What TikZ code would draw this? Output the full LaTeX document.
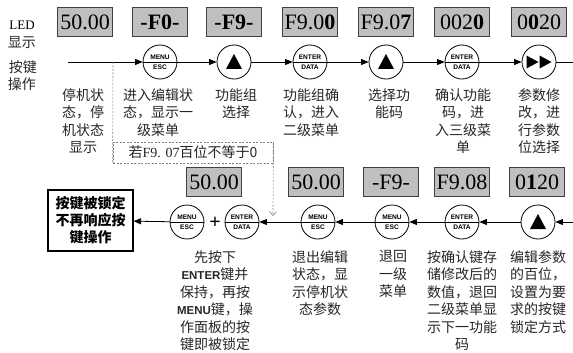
\documentclass[tikz,border=0pt]{standalone}
\usepackage{fontspec}
\setmainfont{Liberation Serif}
\newfontfamily\cjk{Noto Sans CJK SC}
\newfontfamily\keyfont{Liberation Sans}
\usetikzlibrary{arrows.meta,calc}

% key faces drawn on a named circle node
\newcommand\keyface[3]{%
  \draw[line width=0.6pt] (#1.west) -- (#1.east);
  \node[keytxt] (#1-t) at ([yshift=4.6pt]#1.center) {#2};
  \node[keytxt] (#1-b) at ([yshift=-4.8pt]#1.center) {#3};}
\newcommand\uptri[1]{%
  \fill ([shift={(-8pt,-7pt)}]#1.center) -- ++(16,0) -- ++(-8,-15) -- cycle;}
\newcommand\fwdtri[1]{%
  \fill ([shift={(-12.5pt,6.5pt)}]#1.center) -- ++(12,6.5) -- ++(-12,6.5) -- cycle;
  \fill ([shift={(0.5pt,6.5pt)}]#1.center) -- ++(12,6.5) -- ++(-12,6.5) -- cycle;}

\begin{document}
\begin{tikzpicture}[x=1pt,y=-1pt,line width=0.8pt,
  >={Triangle[length=7.5pt,width=6pt]},
  led/.style={draw=black!75,fill=gray!50,line width=0.8pt,minimum width=55pt,
    minimum height=29pt,inner sep=0pt,font=\fontsize{22}{22}\selectfont},
  keyc/.style={draw,circle,minimum size=34pt,inner sep=0pt,line width=0.8pt},
  keytxt/.style={inner sep=0pt,font=\keyfont\bfseries\fontsize{6.6}{7}\selectfont},
  desc/.style={anchor=north,align=center,inner sep=0pt,text=black!85,
    font=\cjk\fontsize{14}{17.5}\selectfont},
  dashline/.style={dash pattern=on 2pt off 1.5pt,black!50,line width=0.6pt}]
  \useasboundingbox (0,0) rectangle (573,353);

  % left captions
  \node[font=\fontsize{13}{13}\selectfont] (l1) at (22,25) {LED};
  \node[desc,anchor=center] (l2) at (22,43) {显示};
  \node[desc,anchor=center] (l3) at (23,67) {按键};
  \node[desc,anchor=center] (l4) at (22,84) {操作};

  % top row: displays
  \node[led] (d1) at (85,22) {50.00};
  \node[led] (d2) at (160,22) {\textbf{-F0-}};
  \node[led] (d3) at (234,22) {\textbf{-F9-}};
  \node[led] (d4) at (310,22) {F9.0\textbf{0}};
  \node[led] (d5) at (386,22) {F9.0\textbf{7}};
  \node[led] (d6) at (462,22) {002\textbf{0}};
  \node[led] (d7) at (539,22) {0\textbf{0}20};

  % top row: keys
  \node[keyc] (k1) at (160,62) {};
  \node[keyc] (k2) at (234,62) {};
  \node[keyc] (k3) at (310,62) {};
  \node[keyc] (k4) at (386,62) {};
  \node[keyc] (k5) at (462,62) {};
  \node[keyc] (k6) at (539,62) {};
  \keyface{k1}{MENU}{ESC}
  \uptri{k2}
  \keyface{k3}{ENTER}{DATA}
  \uptri{k4}
  \keyface{k5}{ENTER}{DATA}
  \fwdtri{k6}

  \coordinate (s0) at (68,62);
  \coordinate (s1) at (573,62);
  \draw[->] (s0) -- (k1);
  \draw[->] (k1) -- (k2);
  \draw[->] (k2) -- (k3);
  \draw[->] (k3) -- (k4);
  \draw[->] (k4) -- (k5);
  \draw[->] (k5) -- (k6);
  \draw (k6) -- (s1);

  % top row: notes
  \node[desc] (t1) at (83,88) {停机状\\态，停\\机状态\\显示};
  \node[desc] (t2) at (158,88) {进入编辑状\\态，显示一\\级菜单};
  \node[desc] (t3) at (236,88) {功能组\\选择};
  \node[desc] (t4) at (311,88) {功能组确\\认，进入\\二级菜单};
  \node[desc] (t5) at (389,88) {选择功\\能码};
  \node[desc] (t6) at (463,88) {确认功能\\码，进\\入三级菜\\单};
  \node[desc] (t7) at (539,88) {参数修\\改，进\\行参数\\位选择};

  % condition branch
  \coordinate (tap) at (113,62);
  \coordinate (vtip) at (273,216);
  \node[draw,dashline,text=black!85,minimum width=160pt,minimum height=21pt,inner sep=0pt,
    font=\cjk\fontsize{14}{14}\selectfont] (cond) at (193,152.5)
    {若{\rmfamily F9. 07}百位不等于0};
  \draw[dashline] (tap) -- (cond.south west);
  \draw[dashline,-{Straight Barb[length=4pt,width=7pt]}] (cond.north east) -- (vtip);

  % bottom row: displays
  \node[led] (e1) at (214,182) {50.00};
  \node[led] (e2) at (316,182) {50.00};
  \node[led] (e3) at (391,182) {-F9-};
  \node[led] (e4) at (462,182) {F9.08};
  \node[led] (e5) at (537,182) {0\textbf{1}20};

  % bottom row: keys
  \node[keyc] (c1) at (538,222) {};
  \node[keyc] (c2) at (462,222) {};
  \node[keyc] (c3) at (392,222) {};
  \node[keyc] (c4) at (318,222) {};
  \node[keyc] (c5) at (242,222) {};
  \node[keyc] (c6) at (187,222) {};
  \uptri{c1}
  \keyface{c2}{ENTER}{DATA}
  \keyface{c3}{MENU}{ESC}
  \keyface{c4}{MENU}{ESC}
  \keyface{c5}{ENTER}{DATA}
  \keyface{c6}{MENU}{ESC}
  \node[font=\bfseries\fontsize{20}{20}\selectfont,inner sep=0pt] (plus) at (215,223) {+};

  \node[draw,line width=1.1pt,minimum width=85pt,minimum height=61pt,inner sep=0pt,align=center,
    font=\cjk\bfseries\fontsize{14}{17}\selectfont] (lock) at (90.5,220.5)
    {按键被锁定\\不再响应按\\键操作};

  \coordinate (r0) at (573,222);
  \draw[->] (r0) -- (c1);
  \draw[->] (c1) -- (c2);
  \draw[->] (c2) -- (c3);
  \draw[->] (c3) -- (c4);
  \draw[->] (c4) -- (c5);
  \draw[->] (c6) -- (lock);

  % bottom row: notes
  \node[desc] (u1) at (538,250) {编辑参数\\的百位，\\设置为要\\求的按键\\锁定方式};
  \node[desc] (u2) at (462,250) {按确认键存\\储修改后的\\数值，退回\\二级菜单显\\示下一功能\\码};
  \node[desc] (u3) at (393,250) {退回\\一级\\菜单};
  \node[desc] (u4) at (320,250) {退出编辑\\状态，显\\示停机状\\态参数};
  \node[desc] (u5) at (215,250) {先按下\\{\keyfont\bfseries\fontsize{11.5}{11.5}\selectfont ENTER}键并\\保持，再按\\{\keyfont\bfseries\fontsize{11.5}{11.5}\selectfont MENU}键，操\\作面板的按\\键即被锁定};
\end{tikzpicture}
\end{document}
